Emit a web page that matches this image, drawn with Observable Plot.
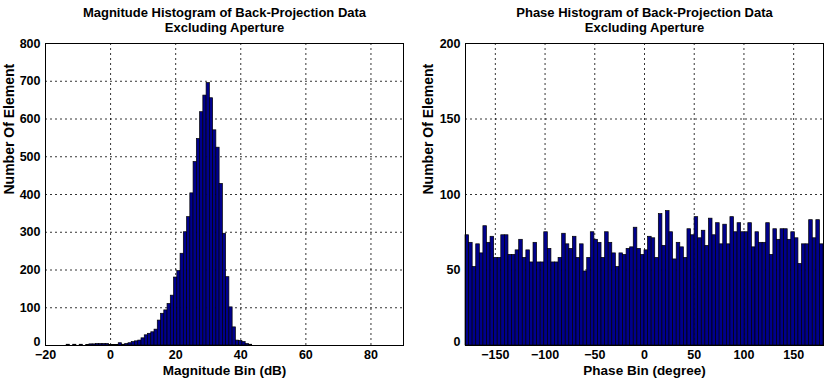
<!DOCTYPE html>
<html>
<head>
<meta charset="utf-8">
<script src="https://cdn.jsdelivr.net/npm/d3@7"></script>
<script src="https://cdn.jsdelivr.net/npm/@observablehq/plot@0.6"></script>
<style>
  html, body { margin: 0; padding: 0; background: #fff; }
  #wrap { display: flex; width: 827px; height: 385px; }
</style>
</head>
<body>
<div id="wrap"></div>
<script>
// ---- Magnitude histogram (1 dB bins, centre values) ----
const magBinCenters = [-14,-13,-12,-11,-10,-9,-8,-7,-6,-5,-4,-3,-2,-1,0,1,2,3,4,5,6,7,8,9,10,11,12,13,14,15,16,17,18,19,20,21,22,23,24,25,26,27,28,29,30,31,32,33,34,35,36,37,38,39,40,41,42,43];
const magCounts = [0,2,0,2,0,2,0,1,3,3,4,4,4,4,1,1,1,6,2,4,6,9,11,13,19,27,31,35,42,66,84,93,110,132,180,197,243,300,340,403,486,547,618,662,695,655,570,524,428,296,181,101,48,13,12,9,4,2];
const magBinWidth = 1;
const magXTicks = [-20, 0, 20, 40, 60, 80];
const magYTicks = [0, 100, 200, 300, 400, 500, 600, 700, 800];

// ---- Phase histogram (100 bins over -180..180 degrees) ----
const phaseStart = -180;
const phaseBinWidth = 3.6;
const phaseCounts = [
  73,68,52,67,61,79,68,72,58,58,
  73,73,60,60,63,70,58,63,55,68,
  55,55,75,64,55,55,58,74,67,64,
  72,58,67,49,58,75,70,68,58,75,
  68,61,52,61,60,64,65,78,64,60,
  63,72,71,58,87,66,89,75,57,68,
  65,58,77,73,85,71,76,66,84,73,
  81,67,80,67,85,75,81,75,75,81,
  65,75,68,68,81,60,77,70,77,77,
  70,75,71,54,67,67,83,71,83,67
];
const phaseXTicks = [-150, -100, -50, 0, 50, 100, 150];
const phaseYTicks = [0, 50, 100, 150, 200];

const titles = ["Magnitude Histogram of Back-Projection Data\nExcluding Aperture",
                "Phase Histogram of Back-Projection Data\nExcluding Aperture"];
const xLabels = ["Magnitude Bin (dB)", "Phase Bin (degree)"];
const yLabel = "Number Of Element";

const magData = magBinCenters.map((c, i) => ({x1: c - magBinWidth / 2, x2: c + magBinWidth / 2, n: magCounts[i]}));
const phaseData = phaseCounts.map((n, i) => ({x1: phaseStart + i * phaseBinWidth, x2: phaseStart + (i + 1) * phaseBinWidth, n}));

const FONT = "'Liberation Sans', Arial, Helvetica, sans-serif";
const BAR = "#00008c";

function panel({data, xDomain, yDomain, xTicks, yTicks, width, marginLeft, marginRight, title, xLabel, yOffset}) {
  const H = 385, mTop = 43, mBottom = 40;
  const yTop = yTicks.filter(t => t !== 0), yZero = yTicks.filter(t => t === 0);
  return Plot.plot({
    width, height: H,
    marginLeft, marginRight, marginTop: mTop, marginBottom: mBottom,
    style: `font-family: ${FONT}; font-weight: bold; font-size: 12px; color: #000; background: #fff; overflow: visible;`,
    x: {domain: xDomain},
    y: {domain: yDomain},
    marks: [
      Plot.gridX(xTicks, {stroke: "#000", strokeOpacity: 1, strokeWidth: 0.8, strokeDasharray: "2,3"}),
      Plot.gridY(yTicks, {stroke: "#000", strokeOpacity: 1, strokeWidth: 0.8, strokeDasharray: "2,3"}),
      Plot.rectY(data, {x1: "x1", x2: "x2", y: "n", fill: BAR, stroke: "#000", strokeWidth: 0.7}),
      Plot.frame({stroke: "#000", strokeWidth: 1}),
      Plot.axisX(xTicks, {tickSize: 0, tickPadding: 5, label: null, fontSize: 12.5, fontWeight: "bold"}),
      Plot.axisY(yTop, {tickSize: 0, tickPadding: 5, label: null, fontSize: 12.5, fontWeight: "bold"}),
      Plot.axisY(yZero, {tickSize: 0, tickPadding: 5, label: null, fontSize: 12.5, fontWeight: "bold", dy: -4}),
      Plot.text([title], {frameAnchor: "top", dy: -23.5, lineAnchor: "middle", lineHeight: 1.15, fontSize: 13, fontWeight: "bold", text: d => d}),
      Plot.text([xLabel], {frameAnchor: "bottom", dy: 25, lineAnchor: "middle", fontSize: 13.5, fontWeight: "bold", text: d => d}),
      Plot.text([yLabel], {frameAnchor: "left", dx: -yOffset, rotate: -90, lineAnchor: "middle", fontSize: 14, fontWeight: "bold", text: d => d})
    ]
  });
}

const wrap = document.getElementById("wrap");
wrap.append(panel({
  data: magData, xDomain: [-20, 90], yDomain: [0, 800], xTicks: magXTicks, yTicks: magYTicks,
  width: 413, marginLeft: 45, marginRight: 10, title: titles[0], xLabel: xLabels[0], yOffset: 36
}));
wrap.append(panel({
  data: phaseData, xDomain: [-180, 180], yDomain: [0, 200], xTicks: phaseXTicks, yTicks: phaseYTicks,
  width: 414, marginLeft: 52, marginRight: 4, title: titles[1], xLabel: xLabels[1], yOffset: 37
}));
</script>
</body>
</html>
